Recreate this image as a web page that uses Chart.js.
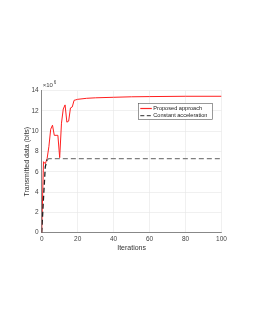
<!DOCTYPE html>
<html>
<head>
<meta charset="utf-8">
<script src="https://cdn.jsdelivr.net/npm/chart.js@4"></script>
<style>
  html, body { margin: 0; padding: 0; background: #fff; }
</style>
</head>
<body>
<canvas id="chart" width="255" height="330"></canvas>
<script>
// Proposed approach (values in 1e6 bits)
const proposedIter = [0, 1, 2, 3, 4, 5, 6, 7, 8, 9, 10, 11, 12, 13, 14, 15, 16, 17, 18, 19, 20, 25, 30, 40, 50, 60, 80, 100];
const proposedData = [0, 7.0, 6.8, 7.3, 8.5, 10.2, 10.6, 9.6, 9.6, 9.6, 7.4, 10.8, 12.2, 12.6, 10.9, 11.0, 12.3, 12.4, 13.05, 13.1, 13.15, 13.25, 13.3, 13.35, 13.4, 13.42, 13.45, 13.45];

// Constant acceleration
const constantIter = [0, 1, 2, 3, 4, 100];
const constantData = [0, 3.4, 6.5, 7.2, 7.3, 7.3];

const xTicks = [0, 20, 40, 60, 80, 100];
const yTicks = [0, 2, 4, 6, 8, 10, 12, 14];

const legendLabels = ['Proposed approach', 'Constant acceleration'];

function toPoints(xs, ys) {
  return xs.map((x, i) => ({ x: x, y: ys[i] }));
}

// draws the x10^6 label and the legend box inside the axes
const extrasPlugin = {
  id: 'extras',
  afterDraw(chart) {
    const ctx = chart.ctx;
    const area = chart.chartArea;
    ctx.save();
    ctx.fillStyle = '#444';
    ctx.font = '6px "Liberation Sans", Arial, sans-serif';
    ctx.textBaseline = 'alphabetic';
    ctx.fillText('\u00d710', area.left + 1, area.top - 4);
    ctx.font = '4.5px "Liberation Sans", Arial, sans-serif';
    ctx.fillText('6', area.left + 12, area.top - 7);

    // legend
    const lx = 138.3, ly = 103.3, lw = 74, lh = 16;
    ctx.fillStyle = '#fff';
    ctx.fillRect(lx, ly, lw, lh);
    ctx.strokeStyle = '#555';
    ctx.lineWidth = 0.6;
    ctx.strokeRect(lx, ly, lw, lh);

    ctx.lineWidth = 1.2;
    ctx.strokeStyle = 'rgb(255,40,40)';
    ctx.beginPath();
    ctx.moveTo(lx + 2, ly + 5.2);
    ctx.lineTo(lx + 13.5, ly + 5.2);
    ctx.stroke();

    ctx.strokeStyle = '#555';
    ctx.setLineDash([4, 2.5]);
    ctx.beginPath();
    ctx.moveTo(lx + 2, ly + 12.3);
    ctx.lineTo(lx + 13.5, ly + 12.3);
    ctx.stroke();
    ctx.setLineDash([]);

    ctx.fillStyle = '#222';
    ctx.font = '5.6px "Liberation Sans", Arial, sans-serif';
    ctx.textBaseline = 'middle';
    ctx.fillText(legendLabels[0], lx + 15, ly + 5.4);
    ctx.fillText(legendLabels[1], lx + 15, ly + 12.5);
    ctx.restore();
  }
};

const ctx = document.getElementById('chart').getContext('2d');
new Chart(ctx, {
  type: 'line',
  data: {
    datasets: [
      {
        label: legendLabels[1],
        data: toPoints(constantIter, constantData),
        borderColor: '#7f7f7f',
        borderWidth: 1.3,
        borderDash: [5, 3],
        pointRadius: 0,
        tension: 0,
        segment: {
          borderColor: c => c.p0.parsed.x < 3 ? '#222' : '#7f7f7f'
        }
      },
      {
        label: legendLabels[0],
        data: toPoints(proposedIter, proposedData),
        borderColor: 'rgb(255,30,30)',
        borderWidth: 1,
        pointRadius: 0,
        tension: 0
      }
    ]
  },
  options: {
    responsive: false,
    animation: false,
    layout: { padding: { left: 23, top: 90.7, right: 33.5, bottom: 77.3 } },
    plugins: {
      legend: { display: false },
      tooltip: { enabled: false }
    },
    scales: {
      x: {
        type: 'linear',
        min: 0,
        max: 100,
        afterFit: s => { s.height = 20; },
        afterBuildTicks: s => { s.ticks = xTicks.map(v => ({ value: v })); },
        grid: { color: '#e6e6e6', lineWidth: 0.6, drawTicks: false },
        border: { color: '#888', width: 1 },
        ticks: {
          padding: 3,
          color: '#444',
          font: { size: 6.5, family: '"Liberation Sans", Arial, sans-serif' },
          maxRotation: 0
        },
        title: {
          display: true,
          text: 'Iterations',
          color: '#333',
          padding: 0,
          font: { size: 7, family: '"Liberation Sans", Arial, sans-serif' }
        }
      },
      y: {
        min: 0,
        max: 14,
        afterFit: s => { s.width = 18.7; },
        afterBuildTicks: s => { s.ticks = yTicks.map(v => ({ value: v })); },
        grid: { color: '#e6e6e6', lineWidth: 0.6, drawTicks: false },
        border: { color: '#888', width: 1 },
        ticks: {
          padding: 3,
          color: '#444',
          font: { size: 6.5, family: '"Liberation Sans", Arial, sans-serif' }
        },
        title: {
          display: true,
          text: 'Transmitted data (bits)',
          color: '#333',
          padding: 0,
          font: { size: 7, family: '"Liberation Sans", Arial, sans-serif' }
        }
      }
    }
  },
  plugins: [extrasPlugin]
});
</script>
</body>
</html>
